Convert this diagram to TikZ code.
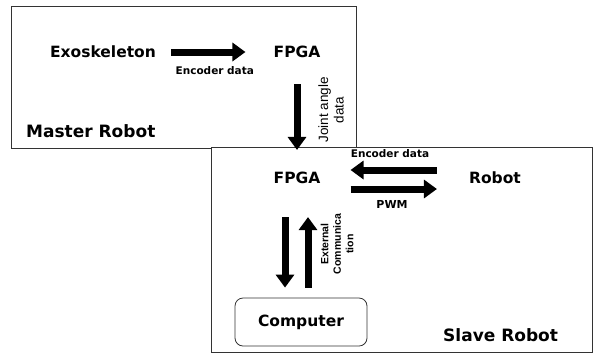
\documentclass[tikz,border=0pt]{standalone}
\usepackage{fontspec}
\setmainfont{DejaVu Sans}
\newfontfamily\narrowfont{Liberation Sans}
\usetikzlibrary{positioning, arrows.meta}

\begin{document}
\begin{tikzpicture}[
  x=1pt, y=-1pt,
  frame/.style={
    draw=black!80, line width=0.8pt, fill=white,
    anchor=north west, inner sep=0pt
  },
  title/.style={font=\bfseries\fontsize{15.5}{18}\selectfont, inner sep=0pt},
  group/.style={font=\bfseries\fontsize{17}{20}\selectfont, inner sep=0pt, anchor=west},
  tag/.style={font=\bfseries\fontsize{10.5}{12}\selectfont, inner sep=0pt},
  sidetag/.style={rotate=90, align=center, inner sep=0pt},
  fat/.style={-{Triangle[length=13pt, width=18pt]}, line width=7pt},
]
\useasboundingbox (0,0) rectangle (593,354);

% the two robots
\node[frame, minimum width=345pt, minimum height=142pt] (master) at (11,6) {};
\node[frame, minimum width=381pt, minimum height=205pt] (slave) at (211,147) {};

% master side
\node[title] (exo) at (103,52) {Exoskeleton};
\node[title] (mfpga) at (297,52) {FPGA};
\node[group] (mlabel) at (26,131) {Master Robot};
\draw[fat, shorten <=15pt, shorten >=28pt] (exo.east) -- (mfpga.west)
  node[midway, tag, yshift=-19pt] (menc) {Encoder data};

% link down to the slave
\node[title] (sfpga) at (297,178) {FPGA};
\draw[fat, shorten <=26pt, shorten >=22pt] (mfpga.south) -- (sfpga.north);
\node[sidetag, font=\narrowfont\fontsize{13.5}{15.5}\selectfont] (joint) at (331,110)
  {Joint angle\\data};

% slave side
\node[title] (robot) at (495,178) {Robot};
\draw[fat, shorten <=32pt, shorten >=30pt] ([yshift=8pt]robot.west) -- ([yshift=8pt]sfpga.east);
\draw[fat, shorten <=30pt, shorten >=32pt] ([yshift=-11pt]sfpga.east) -- ([yshift=-11pt]robot.west);
\node[tag] (senc) at (390,154) {Encoder data};
\node[tag, font=\bfseries\fontsize{11}{12}\selectfont] (pwm) at (392,204) {PWM};

% computer link
\node[title, draw=black!80, line width=0.8pt, rounded corners=8pt,
      minimum width=132pt, minimum height=48pt] (comp) at (301,322) {Computer};
\draw[fat, shorten <=33pt, shorten >=10pt] ([xshift=-12pt]sfpga.south) -- ([xshift=-16pt]comp.north);
\draw[fat, shorten <=10pt, shorten >=33pt] ([xshift=7pt]comp.north) -- ([xshift=11pt]sfpga.south);
\node[sidetag, font=\narrowfont\bfseries\fontsize{10.5}{12.5}\selectfont] (ext) at (337,244)
  {External\\Communica\\tion};
\node[group] (slabel) at (443,335) {Slave Robot};

\end{tikzpicture}
\end{document}
